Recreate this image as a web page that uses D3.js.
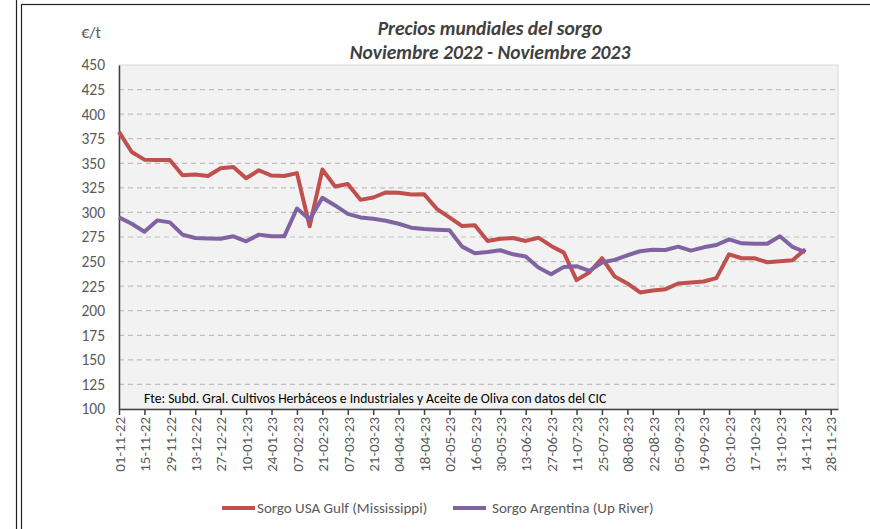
<!DOCTYPE html>
<html>
<head>
<meta charset="utf-8">
<script src="https://cdn.jsdelivr.net/npm/d3@7"></script>
<style>
  html, body { margin: 0; padding: 0; background: #ffffff; }
  svg { display: block; }
  text { font-family: Carlito, Calibri, Lato, "Liberation Sans", sans-serif; }
</style>
</head>
<body>
<svg id="chart" width="870" height="529"></svg>
<script>
// ---------- DATA ----------
const titleLines = ["Precios mundiales del sorgo", "Noviembre 2022 - Noviembre 2023"];
const unitLabel = "€/t";
const sourceNote = "Fte: Subd. Gral. Cultivos Herbáceos e Industriales y Aceite de Oliva con datos del CIC";

const dates = [
  "2022-11-01","2022-11-08","2022-11-15","2022-11-22","2022-11-29","2022-12-06","2022-12-13","2022-12-20","2022-12-27",
  "2023-01-03","2023-01-10","2023-01-17","2023-01-24","2023-01-31","2023-02-07","2023-02-14","2023-02-21","2023-02-28",
  "2023-03-07","2023-03-14","2023-03-21","2023-03-28","2023-04-04","2023-04-11","2023-04-18","2023-04-25","2023-05-02",
  "2023-05-09","2023-05-16","2023-05-23","2023-05-30","2023-06-06","2023-06-13","2023-06-20","2023-06-27","2023-07-04",
  "2023-07-11","2023-07-18","2023-07-25","2023-08-01","2023-08-08","2023-08-15","2023-08-22","2023-08-29","2023-09-05",
  "2023-09-12","2023-09-19","2023-09-26","2023-10-03","2023-10-10","2023-10-17","2023-10-24","2023-10-31","2023-11-07",
  "2023-11-14"
];

const usaGulf = [
  382, 361.5, 353.7, 353.4, 353.4, 337.8, 338.5, 337, 345, 346.3, 334.8, 342.9, 337.5, 337, 340,
  286, 343.6, 326.4, 329, 312.8, 315.2, 320.3, 320, 318.2, 318.6, 303.7, 294.9, 286.1, 287,
  271, 273.3, 274, 271, 274.3, 265.9, 259.1, 231.1, 238.9, 253.4, 234.8, 227.7, 218.6, 220.5,
  221.9, 227.7, 228.7, 229.7, 233.1, 257.4, 253.4, 253.4, 249.3, 250.3, 251.4, 262.5
];

const argentina = [
  295, 288.5, 280.4, 291.9, 289.9, 277.4, 274, 273.6, 273.3, 275.7, 270.6, 277.4, 275.7, 275.7, 304,
  292.9, 314.9, 307.1, 298.6, 294.9, 293.6, 291.6, 288.5, 284.5, 283.1, 282.4, 281.8, 265.2, 258.4,
  259.8, 261.5, 257.4, 255.1, 243.9, 237.2, 244.6, 245.3, 240.5, 249, 251.7, 256.4, 260.5, 262,
  261.8, 265.2, 261.1, 264.5, 266.9, 272.6, 268.6, 268.2, 268.2, 275.7, 264.9, 259.5
];

const seriesNames = ["Sorgo USA Gulf (Mississippi)", "Sorgo Argentina (Up River)"];
const seriesColors = ["#C0504D", "#8064A2"];

const xTickLabels = [
  "01-11-22","15-11-22","29-11-22","13-12-22","27-12-22","10-01-23","24-01-23","07-02-23","21-02-23",
  "07-03-23","21-03-23","04-04-23","18-04-23","02-05-23","16-05-23","30-05-23","13-06-23","27-06-23",
  "11-07-23","25-07-23","08-08-23","22-08-23","05-09-23","19-09-23","03-10-23","17-10-23","31-10-23",
  "14-11-23","28-11-23"
];
const xDomain = ["2022-11-01", "2023-12-02"];
const yTicks = [100,125,150,175,200,225,250,275,300,325,350,375,400,425,450];
const yDomain = [100, 450];

// ---------- LAYOUT ----------
const svg = d3.select("#chart");
const W = 870, H = 529;
const plot = { left: 119, right: 838, top: 65, bottom: 409 };
const parseISO = d3.timeParse("%Y-%m-%d");
const parseLbl = d3.timeParse("%d-%m-%y");

// outer frame
svg.append("line").attr("x1", 16.5).attr("x2", 16.5).attr("y1", 0).attr("y2", H)
  .attr("stroke", "#222").attr("stroke-width", 1.2);
svg.append("rect").attr("x", 21.5).attr("y", 4.5).attr("width", W).attr("height", H)
  .attr("fill", "none").attr("stroke", "#222").attr("stroke-width", 1.2);

const x = d3.scaleTime().domain(xDomain.map(parseISO)).range([plot.left, plot.right]);
const y = d3.scaleLinear().domain(yDomain).range([plot.bottom, plot.top]);

// plot background
svg.append("rect")
  .attr("x", plot.left).attr("y", plot.top)
  .attr("width", plot.right - plot.left).attr("height", plot.bottom - plot.top)
  .attr("fill", "#F2F2F2").attr("stroke", "#D9D9D9").attr("stroke-width", 1);

// grid lines
svg.append("g").selectAll("line")
  .data(yTicks.filter(v => v > yDomain[0] && v < yDomain[1]))
  .join("line")
  .attr("x1", plot.left).attr("x2", plot.right)
  .attr("y1", d => y(d)).attr("y2", d => y(d))
  .attr("stroke", "#BFBFBF").attr("stroke-width", 1.2)
  .attr("stroke-dasharray", "5,4");

// y axis
const yAxis = d3.axisLeft(y).tickValues(yTicks).tickSize(0).tickPadding(14);
const gy = svg.append("g").attr("transform", `translate(${plot.left},0)`).call(yAxis);
gy.select(".domain").attr("stroke", "#404040").attr("stroke-width", 1.5);
gy.selectAll("text").attr("fill", "#595959").style("font-size", "15.5px");

// x axis
const tickDates = xTickLabels.map(parseLbl);
const xAxis = d3.axisBottom(x).tickValues(tickDates).tickSize(6).tickSizeOuter(0)
  .tickFormat((d, i) => xTickLabels[i]);
const gx = svg.append("g").attr("transform", `translate(0,${plot.bottom})`).call(xAxis);
gx.select(".domain").attr("stroke", "#404040").attr("stroke-width", 1.5);
gx.selectAll(".tick line").attr("stroke", "#404040").attr("stroke-width", 1.5);
gx.selectAll("text")
  .attr("fill", "#595959").style("font-size", "15px")
  .attr("text-anchor", "end")
  .attr("transform", "rotate(-90)")
  .attr("x", -8).attr("y", 0).attr("dy", "0.35em");

// lines
const lineGen = d3.line()
  .x((d, i) => x(parseISO(dates[i])))
  .y(d => y(d));
[usaGulf, argentina].forEach((s, k) => {
  svg.append("path").datum(s)
    .attr("fill", "none")
    .attr("stroke", seriesColors[k])
    .attr("stroke-width", 4)
    .attr("stroke-linejoin", "round")
    .attr("d", lineGen);
});

// unit label
svg.append("text").attr("x", 91).attr("y", 38).attr("text-anchor", "middle")
  .attr("fill", "#595959").style("font-size", "16px").text(unitLabel);

// title
svg.append("g").selectAll("text").data(titleLines).join("text")
  .attr("x", 490).attr("y", (d, i) => 35 + i * 24)
  .attr("text-anchor", "middle")
  .attr("fill", "#404040")
  .style("font-size", "19.5px").style("font-weight", "bold").style("font-style", "italic")
  .text(d => d);

// source note
svg.append("text").attr("x", 144).attr("y", 403)
  .attr("fill", "#000").style("font-size", "13.6px").text(sourceNote);

// legend
const legend = svg.append("g");
const legendItems = [
  { x: 222, textX: 257 },
  { x: 453, textX: 492 }
];
legendItems.forEach((it, k) => {
  legend.append("line")
    .attr("x1", it.x).attr("x2", it.x + 33)
    .attr("y1", 508).attr("y2", 508)
    .attr("stroke", seriesColors[k]).attr("stroke-width", 4);
  legend.append("text").attr("x", it.textX).attr("y", 513)
    .attr("fill", "#595959").style("font-size", "15px").text(seriesNames[k]);
});
</script>
</body>
</html>
